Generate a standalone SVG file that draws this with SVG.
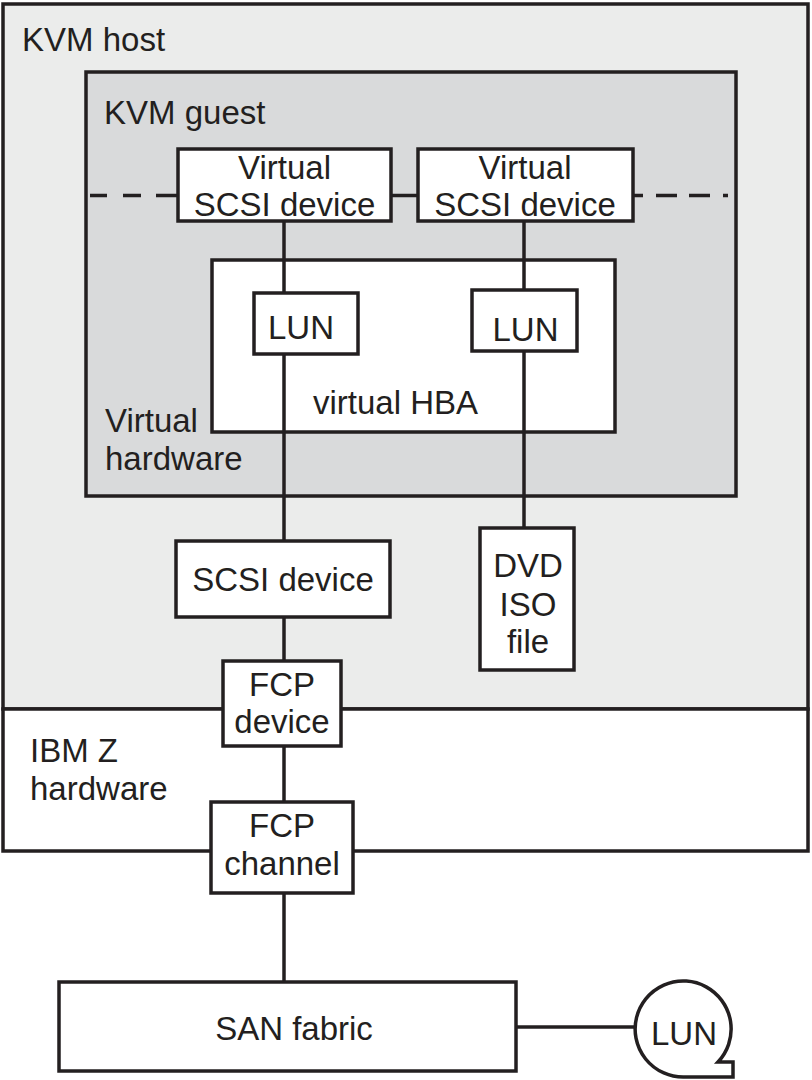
<svg xmlns="http://www.w3.org/2000/svg" width="812" height="1080" viewBox="0 0 812 1080">
<style>
.box{fill:#ffffff;stroke:#231f20;stroke-width:3.5}
.ln{stroke:#231f20;stroke-width:3.5;fill:none}
.t{font-family:"Liberation Sans",Arial,sans-serif;font-size:33px;fill:#231f20}
.c{text-anchor:middle}
</style>
<rect width="812" height="1080" fill="#ffffff"/>
<g id="kvm-host">
<rect x="3" y="4" width="805" height="705" fill="#ebeceb" stroke="#231f20" stroke-width="3.5"/>
<text class="t" x="22" y="51">KVM host</text>
</g>
<g id="ibm-z-hardware">
<rect x="3" y="709" width="805" height="142" class="box"/>
<text class="t" x="30" y="762">IBM Z</text>
<text class="t" x="30" y="800">hardware</text>
</g>
<g id="kvm-guest">
<rect x="86" y="72" width="650" height="424" fill="#d9dadb" stroke="#231f20" stroke-width="3.5"/>
<text class="t" x="104" y="124">KVM guest</text>
<text class="t" x="105" y="432">Virtual</text>
<text class="t" x="105" y="470">hardware</text>
</g>
<g id="virtual-hba">
<rect x="212" y="260" width="403" height="172" class="box"/>
<text class="t c" x="395.5" y="414">virtual HBA</text>
</g>
<g id="connectors">
<line class="ln" x1="90" y1="195.5" x2="178" y2="195.5" stroke-dasharray="17 16 18 15 40"/>
<line class="ln" x1="633" y1="195.5" x2="728" y2="195.5" stroke-dasharray="10 13 21 12 21 13 5 100"/>
<line class="ln" x1="390" y1="195.5" x2="418" y2="195.5"/>
<line class="ln" x1="284" y1="222" x2="284" y2="541"/>
<line class="ln" x1="524" y1="222" x2="524" y2="528"/>
<line class="ln" x1="284" y1="617" x2="284" y2="661"/>
<line class="ln" x1="284" y1="746" x2="284" y2="802"/>
<line class="ln" x1="284" y1="893" x2="284" y2="982"/>
<line class="ln" x1="516" y1="1027" x2="636" y2="1027"/>
</g>
<g id="virtual-scsi-device-1">
<rect x="178" y="149" width="213" height="72" class="box"/>
<text class="t c" x="284.5" y="179">Virtual</text>
<text class="t c" x="284.5" y="216">SCSI device</text>
</g>
<g id="virtual-scsi-device-2">
<rect x="418" y="149" width="215" height="72" class="box"/>
<text class="t c" x="525" y="179">Virtual</text>
<text class="t c" x="525" y="216">SCSI device</text>
</g>
<g id="lun-1">
<rect x="254" y="293" width="104" height="61" class="box"/>
<text class="t c" x="301" y="339">LUN</text>
</g>
<g id="lun-2">
<rect x="472" y="290" width="105" height="61" class="box"/>
<text class="t c" x="525.5" y="341">LUN</text>
</g>
<g id="scsi-device">
<rect x="176" y="541" width="214" height="76" class="box"/>
<text class="t c" x="283" y="591">SCSI device</text>
</g>
<g id="dvd-iso-file">
<rect x="480" y="528" width="94" height="142" class="box"/>
<text class="t c" x="528" y="577">DVD</text>
<text class="t c" x="528" y="616">ISO</text>
<text class="t c" x="528" y="653">file</text>
</g>
<g id="fcp-device">
<rect x="223" y="661" width="118" height="85" class="box"/>
<text class="t c" x="282" y="696">FCP</text>
<text class="t c" x="282" y="733">device</text>
</g>
<g id="fcp-channel">
<rect x="211" y="802" width="142" height="91" class="box"/>
<text class="t c" x="282" y="837">FCP</text>
<text class="t c" x="282" y="875">channel</text>
</g>
<g id="san-fabric">
<rect x="59" y="982" width="457" height="89" class="box"/>
<text class="t c" x="294" y="1040">SAN fabric</text>
</g>
<g id="lun-storage">
<path class="box" d="M718,1062 L733,1062 L733,1077 L684,1077 A48,48 0 1,1 718,1062 Z"/>
<text class="t c" x="684" y="1045">LUN</text>
</g>
</svg>
